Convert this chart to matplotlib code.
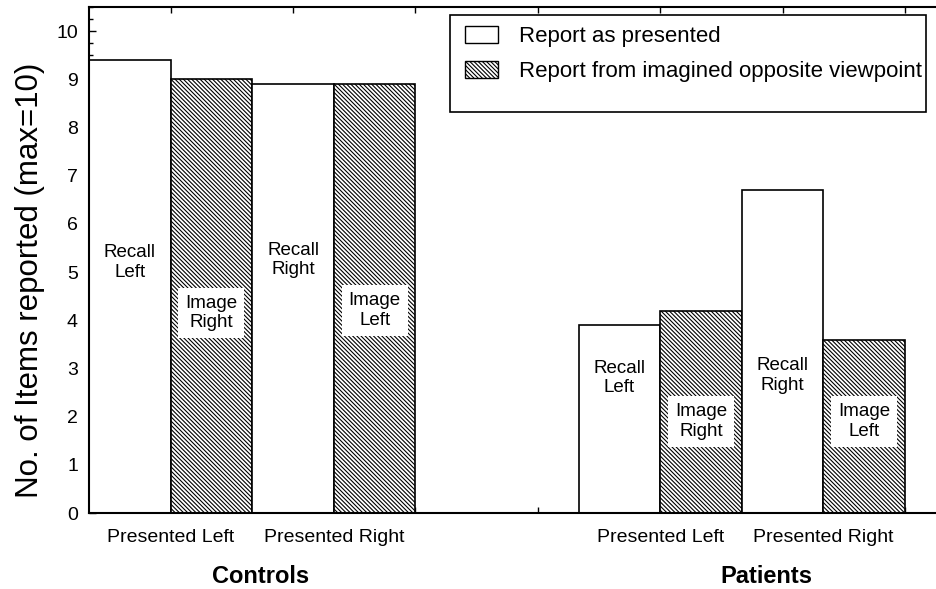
import matplotlib
matplotlib.use("Agg")
import matplotlib.pyplot as plt
from matplotlib.patches import Patch, Rectangle

plt.rcParams['font.family'] = ['Liberation Sans', 'DejaVu Sans']
plt.rcParams['hatch.linewidth'] = 0.8

# data
groups = ["Controls", "Patients"]
conditions = ["Presented Left", "Presented Right"]
as_presented = {"Controls": [9.4, 8.9], "Patients": [3.9, 6.7]}
imagined = {"Controls": [9.0, 8.9], "Patients": [4.2, 3.6]}
recall_labels = ["Recall\nLeft", "Recall\nRight"]
image_labels = ["Image\nRight", "Image\nLeft"]
legend_labels = ["Report as presented", "Report from imagined opposite viewpoint"]
ylabel = "No. of Items reported (max=10)"

# layout positions
group_start = {"Controls": 0.0, "Patients": 6.0}
group_label_x = {"Controls": 2.1, "Patients": 8.3}
recall_text_y = {"Controls": [5.2, 5.25], "Patients": [2.8, 2.85]}
image_text_y = {"Controls": [4.15, 4.2], "Patients": [1.9, 1.9]}

fig = plt.figure(figsize=(9.36, 5.89), dpi=100)
ax = fig.add_axes([0.0951, 0.129, 0.905, 0.859])

hatch = '\\' * 8
for g in groups:
    s = group_start[g]
    for i in range(2):
        x_r = s + 2 * i + 0.5
        x_i = s + 2 * i + 1.5
        ax.bar(x_r, as_presented[g][i], width=1.0, facecolor='white',
               edgecolor='black', linewidth=1.2, zorder=2)
        ax.bar(x_i, imagined[g][i], width=1.0, facecolor='white',
               edgecolor='black', hatch=hatch, linewidth=1.2, zorder=2)
        ax.text(x_r, recall_text_y[g][i], recall_labels[i], ha='center',
                va='center', fontsize=13.5, zorder=4, linespacing=1.2)
        ax.text(x_i, image_text_y[g][i], image_labels[i], ha='center',
                va='center', fontsize=13.5, zorder=4, linespacing=1.2,
                bbox=dict(facecolor='white', edgecolor='none', pad=5))
        ax.text(s + 2 * i + 1.0, -0.5, conditions[i], ha='center',
                va='center', fontsize=14)
    ax.text(group_label_x[g], -1.31, g, ha='center', va='center',
            fontsize=17, fontweight='bold')

ax.set_xlim(0, 10.38)
ax.set_ylim(0, 10.5)
ax.set_yticks(range(0, 11))
ax.set_yticks([k * 0.25 for k in range(0, 43)], minor=True)
ax.set_xticks([1.0 + 1.5 * k for k in range(7)])
ax.set_xticklabels([])
ax.tick_params(axis='y', which='major', direction='in', length=5, width=1,
               labelsize=14, pad=8, right=False)
ax.tick_params(axis='y', which='minor', direction='in', length=3, width=1, right=False)
ax.tick_params(axis='x', which='major', direction='in', length=4, width=1,
               top=True, bottom=True)
ax.spines['right'].set_visible(False)
for sp in ['left', 'bottom', 'top']:
    ax.spines[sp].set_linewidth(1.5)
ax.set_ylabel(ylabel, fontsize=22.5)
ax.yaxis.set_label_coords(-0.052, 0.46)

# legend frame drawn separately
ax.add_patch(Rectangle((0.4262, 0.7925), 0.9882 - 0.4262, 0.9842 - 0.7925,
                       transform=ax.transAxes, facecolor='white',
                       edgecolor='black', linewidth=1.2, zorder=5,
                       clip_on=False))
handles = [Patch(facecolor='white', edgecolor='black', linewidth=1.0),
           Patch(facecolor='white', edgecolor='black', hatch=hatch, linewidth=1.0)]
leg = ax.legend(handles, legend_labels, loc='upper left',
                bbox_to_anchor=(0.4439, 0.9625), fontsize=16, frameon=False,
                handlelength=1.5, handleheight=0.8, handletextpad=0.95,
                labelspacing=0.6, borderpad=0.0, borderaxespad=0.0)
leg.set_zorder(6)

fig.savefig("out.png", dpi=100)
